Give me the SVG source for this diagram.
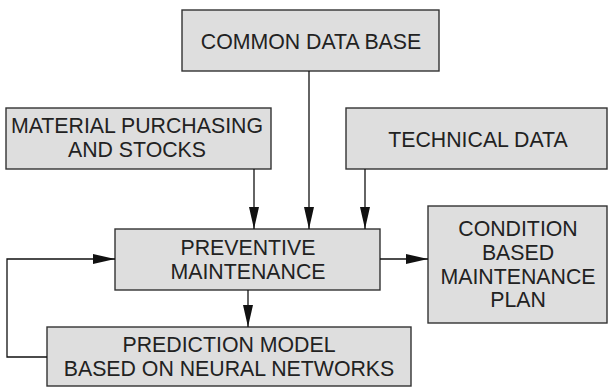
<svg xmlns="http://www.w3.org/2000/svg" width="608" height="388" viewBox="0 0 608 388">
<defs>
<marker id="ah" markerWidth="22" markerHeight="10" refX="22" refY="5" orient="auto" markerUnits="userSpaceOnUse">
<path d="M0,0 L22,5 L0,10 Z" fill="#111"/>
</marker>
<style>
.box{fill:#dedede;stroke:#333;stroke-width:1.4}
.t{font-family:"Liberation Sans",Arial,sans-serif;font-size:21.3px;fill:#222;text-anchor:middle}
.c{fill:none;stroke:#111;stroke-width:1.3}
</style>
</defs>
<rect width="608" height="388" fill="#fff"/>
<g id="common">
<rect class="box" x="182" y="10" width="257" height="61"/>
<text class="t" x="311" y="49">COMMON DATA BASE</text>
</g>
<g id="material">
<rect class="box" x="6" y="108" width="265" height="61"/>
<text class="t" x="137" y="133">MATERIAL PURCHASING</text>
<text class="t" x="137" y="157">AND STOCKS</text>
</g>
<g id="technical">
<rect class="box" x="346" y="108" width="261" height="61"/>
<text class="t" x="478" y="147">TECHNICAL DATA</text>
</g>
<g id="preventive">
<rect class="box" x="115" y="229" width="265" height="61"/>
<text class="t" x="248" y="255">PREVENTIVE</text>
<text class="t" x="248" y="279">MAINTENANCE</text>
</g>
<g id="condition">
<rect class="box" x="428" y="206" width="179" height="117"/>
<text class="t" x="518" y="236">CONDITION</text>
<text class="t" x="518" y="260">BASED</text>
<text class="t" x="518" y="284">MAINTENANCE</text>
<text class="t" x="518" y="307">PLAN</text>
</g>
<g id="prediction">
<rect class="box" x="47" y="327" width="364" height="59"/>
<text class="t" x="229" y="352">PREDICTION MODEL</text>
<text class="t" x="229" y="376">BASED ON NEURAL NETWORKS</text>
</g>
<g id="connectors">
<path class="c" d="M254,169 V229" marker-end="url(#ah)"/>
<path class="c" d="M309,71 V229" marker-end="url(#ah)"/>
<path class="c" d="M365,169 V229" marker-end="url(#ah)"/>
<path class="c" d="M380,259 H428" marker-end="url(#ah)"/>
<path class="c" d="M248,290 V327" marker-end="url(#ah)"/>
<path class="c" d="M47,357 H7 V259 H115" marker-end="url(#ah)"/>
</g>
</svg>
